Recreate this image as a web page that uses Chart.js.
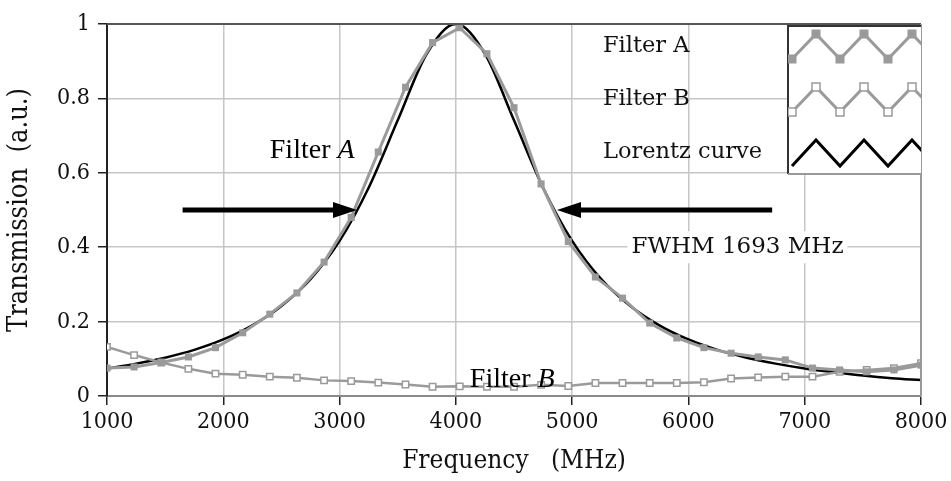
<!DOCTYPE html>
<html>
<head>
<meta charset="utf-8">
<script src="https://cdn.jsdelivr.net/npm/chart.js@4.4.0/dist/chart.umd.min.js"></script>
<style>
  html, body { margin: 0; padding: 0; background: #fff; }
</style>
</head>
<body>
<canvas id="chart" width="951" height="481"></canvas>
<script>
// sample frequencies of the filter measurements (MHz)
const freqs = [1000, 1233, 1467, 1700, 1933, 2167, 2400, 2633, 2867, 3100, 3333,
  3567, 3800, 4033, 4267, 4500, 4733, 4967, 5200, 5433, 5667, 5900, 6133,
  6367, 6600, 6833, 7067, 7300, 7533, 7767, 8000];

const filterA = [0.075, 0.078, 0.09, 0.105, 0.13, 0.17, 0.22, 0.277, 0.36, 0.48, 0.656,
  0.83, 0.95, 0.99, 0.92, 0.775, 0.57, 0.415, 0.32, 0.263, 0.196, 0.156, 0.13,
  0.115, 0.105, 0.097, 0.075, 0.07, 0.065, 0.07, 0.083];

const filterB = [0.132, 0.11, 0.09, 0.073, 0.06, 0.057, 0.052, 0.049, 0.042, 0.04, 0.036,
  0.031, 0.025, 0.026, 0.025, 0.025, 0.03, 0.027, 0.035, 0.035, 0.035, 0.035, 0.037,
  0.047, 0.05, 0.052, 0.052, 0.065, 0.07, 0.075, 0.088];

// Lorentz fit
const lorentzFreqs = [1000, 1250, 1500, 1750, 2000, 2250, 2500, 2750, 3000, 3250, 3500,
  3750, 4000, 4250, 4500, 4750, 5000, 5250, 5500, 5750, 6000, 6250, 6500, 6750,
  7000, 7250, 7500, 7750, 8000];
const lorentz = [0.074, 0.087, 0.103, 0.124, 0.152, 0.19, 0.242, 0.314, 0.417, 0.56, 0.741,
  0.92, 1.0, 0.92, 0.741, 0.56, 0.417, 0.314, 0.242, 0.19, 0.152, 0.124, 0.103, 0.087,
  0.074, 0.064, 0.055, 0.048, 0.043];

const xTicks = [1000, 2000, 3000, 4000, 5000, 6000, 7000, 8000];
const yTicks = [0, 0.2, 0.4, 0.6, 0.8, 1];

const seriesNames = ["Filter A", "Filter B", "Lorentz curve"];

const GRAY = "#9a9a9a";
const SERIF = "'Liberation Serif', 'Times New Roman', serif";
const TICKFONT = "'DejaVu Serif Condensed', 'Liberation Serif', serif";
const LEGFONT = "'DejaVu Serif', serif";

function pts(xs, ys) {
  return xs.map((x, i) => ({ x: x, y: ys[i] }));
}

// arrow helper
function arrow(ctx, x0, x1, y) {
  const dir = x1 > x0 ? 1 : -1;
  ctx.save();
  ctx.strokeStyle = "#000";
  ctx.fillStyle = "#000";
  ctx.lineWidth = 5;
  ctx.beginPath();
  ctx.moveTo(x0, y);
  ctx.lineTo(x1 - dir * 20, y);
  ctx.stroke();
  ctx.beginPath();
  ctx.moveTo(x1, y);
  ctx.lineTo(x1 - dir * 24, y - 8);
  ctx.lineTo(x1 - dir * 24, y + 8);
  ctx.closePath();
  ctx.fill();
  ctx.restore();
}

function zigzag(ctx, left, right, yLow, yHigh, color, width, marker) {
  const half = 24;
  const vs = [];
  let x = left + 4, low = true;
  while (x <= right + half) {
    vs.push({ x: x, y: low ? yLow : yHigh });
    x += half;
    low = !low;
  }
  ctx.save();
  ctx.beginPath();
  ctx.rect(left, yHigh - 8, right - left, yLow - yHigh + 16);
  ctx.clip();
  ctx.strokeStyle = color;
  ctx.lineWidth = width;
  ctx.beginPath();
  vs.forEach((p, i) => i ? ctx.lineTo(p.x, p.y) : ctx.moveTo(p.x, p.y));
  ctx.stroke();
  if (marker) {
    vs.forEach(p => {
      if (marker === "filled") {
        ctx.fillStyle = color;
        ctx.fillRect(p.x - 4.5, p.y - 4.5, 9, 9);
      } else {
        ctx.fillStyle = "#fff";
        ctx.fillRect(p.x - 4, p.y - 4, 8, 8);
        ctx.lineWidth = 1.5;
        ctx.strokeRect(p.x - 4, p.y - 4, 8, 8);
        ctx.lineWidth = width;
      }
    });
  }
  ctx.restore();
}

const decorations = {
  id: "decorations",
  afterDatasetsDraw(chart) {
    const ctx = chart.ctx;
    const a = chart.chartArea;
    const xs = chart.scales.x, ys = chart.scales.y;

    // frame top / right
    ctx.save();
    ctx.strokeStyle = "#555";
    ctx.lineWidth = 2;
    ctx.beginPath();
    ctx.moveTo(a.left, a.top);
    ctx.lineTo(a.right, a.top);
    ctx.stroke();
    ctx.strokeStyle = "#999";
    ctx.beginPath();
    ctx.moveTo(a.right, a.top);
    ctx.lineTo(a.right, a.bottom);
    ctx.stroke();
    ctx.restore();

    // FWHM arrows
    const yHalf = ys.getPixelForValue(0.5);
    arrow(ctx, xs.getPixelForValue(1650), xs.getPixelForValue(3150), yHalf);
    arrow(ctx, xs.getPixelForValue(6720), xs.getPixelForValue(4870), yHalf);

    // FWHM label with white box
    ctx.save();
    ctx.font = "23px " + LEGFONT;
    ctx.textBaseline = "middle";
    const lbl = "FWHM 1693 MHz";
    const lx = xs.getPixelForValue(5510), ly = ys.getPixelForValue(0.4);
    const lw = ctx.measureText(lbl).width;
    ctx.fillStyle = "#fff";
    ctx.fillRect(lx - 4, ly - 16, lw + 8, 32);
    ctx.fillStyle = "#111";
    ctx.fillText(lbl, lx, ly);
    ctx.restore();

    // curve labels with italic letter
    function tag(word, letter, x, y) {
      ctx.save();
      ctx.textBaseline = "middle";
      ctx.fillStyle = "#000";
      ctx.font = "28px " + SERIF;
      ctx.fillText(word, x, y);
      const w = ctx.measureText(word).width;
      ctx.font = "italic 28px " + SERIF;
      ctx.fillText(letter, x + w, y);
      ctx.restore();
    }
    tag("Filter ", "A", xs.getPixelForValue(2400), ys.getPixelForValue(0.66));
    tag("Filter ", "B", xs.getPixelForValue(4120), ys.getPixelForValue(0.045));

    // legend
    const boxL = a.right - 133, boxT = a.top + 2, boxB = a.top + 150;
    ctx.save();
    ctx.fillStyle = "#fff";
    ctx.fillRect(boxL, boxT, a.right - boxL, boxB - boxT);
    ctx.strokeStyle = "#333";
    ctx.lineWidth = 2;
    ctx.beginPath();
    ctx.moveTo(a.right, boxT);
    ctx.lineTo(boxL, boxT);
    ctx.lineTo(boxL, boxB);
    ctx.stroke();
    ctx.strokeStyle = "#999";
    ctx.beginPath();
    ctx.moveTo(boxL, boxB);
    ctx.lineTo(a.right, boxB);
    ctx.stroke();
    ctx.restore();

    const rows = [a.top + 22, a.top + 75, a.top + 128];
    ctx.save();
    ctx.font = "22.5px " + LEGFONT;
    ctx.fillStyle = "#111";
    ctx.textBaseline = "middle";
    seriesNames.forEach((n, i) => ctx.fillText(n, boxL - 185, rows[i]));
    ctx.restore();

    zigzag(ctx, boxL, a.right, rows[0] + 13, rows[0] - 12, GRAY, 3, "filled");
    zigzag(ctx, boxL, a.right, rows[1] + 13, rows[1] - 12, GRAY, 3, "open");
    zigzag(ctx, boxL, a.right, rows[2] + 14, rows[2] - 12, "#000", 3, null);
  }
};

new Chart(document.getElementById("chart"), {
  type: "line",
  data: {
    datasets: [
      {
        label: seriesNames[0],
        data: pts(freqs, filterA),
        borderColor: GRAY,
        backgroundColor: GRAY,
        borderWidth: 3,
        pointStyle: "rect",
        pointRadius: 5,
        pointBorderWidth: 0,
        pointBackgroundColor: GRAY
      },
      {
        label: seriesNames[1],
        data: pts(freqs, filterB),
        borderColor: GRAY,
        backgroundColor: "#fff",
        borderWidth: 2.5,
        pointStyle: "rect",
        pointRadius: 4.5,
        pointBorderWidth: 1.5,
        pointBorderColor: GRAY,
        pointBackgroundColor: "#fff"
      },
      {
        label: seriesNames[2],
        data: pts(lorentzFreqs, lorentz),
        borderColor: "#000",
        borderWidth: 2.5,
        pointRadius: 0,
        cubicInterpolationMode: "monotone"
      }
    ]
  },
  options: {
    responsive: false,
    animation: false,
    layout: { padding: { top: 24, right: 30, left: 0, bottom: 0 } },
    plugins: {
      legend: { display: false },
      tooltip: { enabled: false }
    },
    scales: {
      x: {
        type: "linear",
        min: 1000,
        max: 8000,
        afterBuildTicks: s => { s.ticks = xTicks.map(v => ({ value: v })); },
        afterFit: s => { s.height = 85; },
        grid: { color: "#c6c6c6", lineWidth: 1.5, tickColor: "#222", tickLength: 9 },
        border: { color: "#8a8a8a", width: 2 },
        ticks: {
          color: "#111",
          padding: 3,
          maxRotation: 0,
          font: { family: TICKFONT, size: 23 },
          callback: v => String(v)
        },
        title: {
          display: true,
          text: "Frequency   (MHz)",
          color: "#111",
          padding: { top: 8 },
          font: { family: TICKFONT, size: 26 }
        }
      },
      y: {
        min: 0,
        max: 1,
        afterBuildTicks: s => { s.ticks = yTicks.map(v => ({ value: v })); },
        afterFit: s => { s.width = 107; },
        grid: { color: "#c6c6c6", lineWidth: 1.5, tickColor: "#222", tickLength: 9 },
        border: { color: "#222", width: 2 },
        ticks: {
          color: "#111",
          padding: 8,
          font: { family: TICKFONT, size: 23 },
          callback: v => String(v)
        },
        title: {
          display: true,
          text: "Transmission  (a.u.)",
          color: "#111",
          padding: { bottom: 0 },
          font: { family: TICKFONT, size: 27 }
        }
      }
    }
  },
  plugins: [decorations]
});
</script>
</body>
</html>
